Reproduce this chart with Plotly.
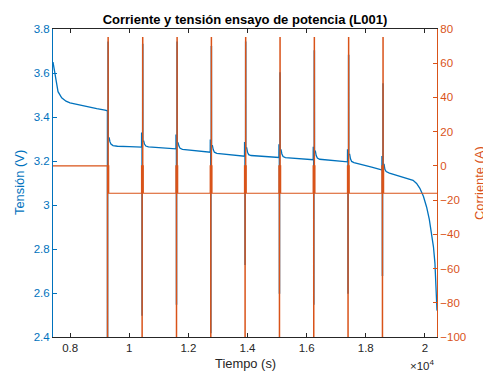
import plotly.graph_objects as go

BLUE = "#0072BD"
ORANGE = "#D95319"
DARK = "#262626"
FONT = "Liberation Sans, Arial, Helvetica, sans-serif"

# Open-circuit rest before the first power pulse
t_rest = [7420, 7454, 7490, 7545, 7590, 7714, 7860, 7995, 8220, 8560, 8900, 9180, 9240]
v_rest = [3.65, 3.62, 3.585, 3.54, 3.515, 3.487, 3.472, 3.464, 3.457, 3.447, 3.438, 3.431, 3.428]

# Power pulses: start time (s) and voltage extremes reached around each one
pulse_t = [9270, 10440, 11603, 12763, 13923, 15086, 16246, 17406, 18570]
v_pre_peak = [3.428, 3.327, 3.318, 3.295, 3.283, 3.273, 3.262, 3.250, 3.220]
v_low = [2.35, 2.50, 2.55, 2.42, 2.73, 2.60, 2.55, 2.60, 2.68]
v_high = [3.74, 3.73, 3.74, 3.72, 3.74, 3.60, 3.70, 3.68, 3.55]

# Constant-current discharge between pulses (voltage samples)
seg_t = [
    [9320, 9345, 9380, 9450, 9600, 10000, 10405],
    [10490, 10515, 10560, 10650, 11000, 11570],
    [11653, 11680, 11720, 11800, 12200, 12730],
    [12813, 12840, 12880, 12960, 13400, 13890],
    [13973, 14000, 14040, 14120, 14600, 15050],
    [15136, 15163, 15203, 15280, 15800, 16210],
    [16296, 16323, 16363, 16440, 16900, 17370],
    [17456, 17483, 17523, 17600, 17800, 18200, 18535],
    [18620, 18647, 18690, 18800, 19150, 19450, 19600, 19720, 19830, 19950,
     20060, 20150, 20230, 20290, 20340, 20380, 20410],
]
seg_v = [
    [3.305, 3.288, 3.277, 3.270, 3.267, 3.265, 3.263],
    [3.290, 3.277, 3.268, 3.264, 3.260, 3.255],
    [3.282, 3.268, 3.258, 3.253, 3.247, 3.240],
    [3.270, 3.252, 3.240, 3.235, 3.229, 3.222],
    [3.260, 3.240, 3.229, 3.225, 3.221, 3.216],
    [3.250, 3.232, 3.220, 3.215, 3.211, 3.206],
    [3.245, 3.225, 3.213, 3.208, 3.203, 3.196],
    [3.230, 3.210, 3.198, 3.193, 3.185, 3.172, 3.160],
    [3.185, 3.162, 3.152, 3.145, 3.130, 3.120, 3.112, 3.098, 3.076, 3.040,
     2.990, 2.935, 2.873, 2.810, 2.736, 2.640, 2.520],
]

# Current levels (A)
i_rest = 0
i_base = -16
i_neg = -110
i_pos = 75
t_end = 20410

# Voltage series: rest, then for each pulse the rest/discharge/charge steps
tv = list(t_rest)
vv = list(v_rest)
for k, T in enumerate(pulse_t):
    last = vv[-1]
    first = seg_v[k][0]
    tv += [T - 25, T - 23, T - 10, T - 9, T - 1, T + 1, T + 10, T + 11, T + 19, T + 21]
    vv += [last, v_pre_peak[k], v_pre_peak[k], v_low[k], v_low[k],
           v_pre_peak[k], v_pre_peak[k], v_high[k], v_high[k], first]
    tv += seg_t[k]
    vv += seg_v[k]

# Current series as step changes
ti = [t_rest[0]]
ii = [i_rest]
for T in pulse_t:
    ti += [T - 25, T - 10, T, T + 10, T + 20, T + 35]
    ii += [i_rest, i_neg, i_rest, i_pos, i_rest, i_base]
ti.append(t_end)
ii.append(i_base)

x_ticks = [8000, 10000, 12000, 14000, 16000, 18000, 20000]
x_labels = ["0.8", "1", "1.2", "1.4", "1.6", "1.8", "2"]
v_ticks = [2.4, 2.6, 2.8, 3.0, 3.2, 3.4, 3.6, 3.8]
v_labels = ["2.4", "2.6", "2.8", "3", "3.2", "3.4", "3.6", "3.8"]
i_ticks = [-100, -80, -60, -40, -20, 0, 20, 40, 60, 80]

fig = go.Figure()
fig.add_trace(go.Scatter(x=tv, y=vv, mode="lines", line=dict(color=BLUE, width=1.3),
                         yaxis="y", hoverinfo="skip"))
fig.add_trace(go.Scatter(x=ti, y=ii, mode="lines", line=dict(color=ORANGE, width=1.2, shape="hv"),
                         yaxis="y2", hoverinfo="skip"))

fig.update_layout(
    width=483, height=372,
    margin=dict(l=53, r=46, t=29, b=35),
    paper_bgcolor="white", plot_bgcolor="white",
    showlegend=False,
    font=dict(family=FONT, size=11.5, color=DARK),
    title=dict(text="<b>Corriente y tensión ensayo de potencia (L001)</b>",
               x=0.5, xref="paper", xanchor="center",
               y=1 - 19 / 372, yref="container", yanchor="middle",
               font=dict(family=FONT, size=13, color="#000000")),
    xaxis=dict(range=[7420, t_end], tickvals=x_ticks, ticktext=x_labels,
               ticks="inside", ticklen=4, tickcolor=DARK, tickwidth=1,
               showline=True, linecolor=DARK, linewidth=1, mirror="ticks",
               showgrid=False, zeroline=False,
               tickfont=dict(color=DARK, size=11.5)),
    yaxis=dict(range=[2.4, 3.8], tickvals=v_ticks, ticktext=v_labels,
               ticks="inside", ticklen=4, tickcolor=BLUE, tickwidth=1,
               showline=True, linecolor=BLUE, linewidth=1,
               showgrid=False, zeroline=False,
               tickfont=dict(color=BLUE, size=11.5)),
    yaxis2=dict(range=[-100, 80], tickvals=i_ticks, overlaying="y", side="right",
                ticks="inside", ticklen=4, tickcolor=ORANGE, tickwidth=1,
                showline=True, linecolor=ORANGE, linewidth=1,
                showgrid=False, zeroline=False,
                tickfont=dict(color=ORANGE, size=11.5)),
)

fig.add_annotation(text="Tiempo (s)", x=0.5, xref="paper", y=(337 - 364) / 308, yref="paper",
                   xanchor="center", yanchor="middle", showarrow=False,
                   font=dict(family=FONT, size=12.9, color=DARK))
fig.add_annotation(text="×10<sup>4</sup>", x=1.0, xref="paper", y=(337 - 365) / 308, yref="paper",
                   xanchor="right", yanchor="middle", showarrow=False,
                   font=dict(family=FONT, size=11.5, color=DARK))
fig.add_annotation(text="Tensión (V)", x=(19 - 53) / 384, xref="paper", y=0.5, yref="paper",
                   xanchor="center", yanchor="middle", textangle=-90, showarrow=False,
                   font=dict(family=FONT, size=12.9, color=BLUE))
fig.add_annotation(text="Corriente (A)", x=(479 - 53) / 384, xref="paper", y=0.5, yref="paper",
                   xanchor="center", yanchor="middle", textangle=-90, showarrow=False,
                   font=dict(family=FONT, size=12.9, color=ORANGE))

fig.write_html("out.html")
